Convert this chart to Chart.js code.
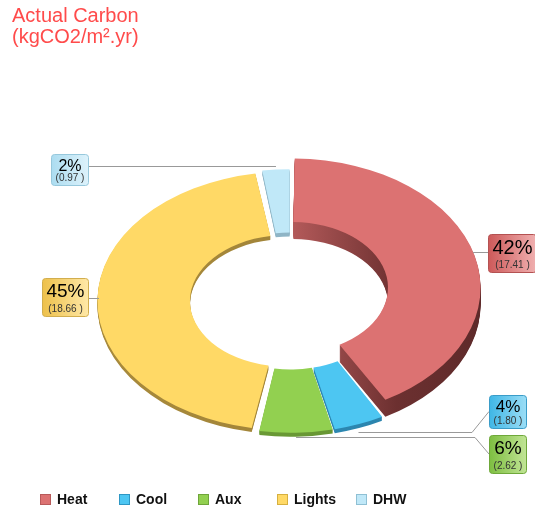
<!DOCTYPE html>
<html>
<head>
<meta charset="utf-8">
<script src="https://cdn.jsdelivr.net/npm/chart.js"></script>
<style>
html,body{margin:0;padding:0;background:#fff;width:535px;height:508px;overflow:hidden;}
#wrap{position:relative;width:535px;height:508px;}
#c{position:absolute;left:0;top:0;}
#title{position:absolute;left:12px;top:5px;color:#FF4B4B;font:20px "Liberation Sans",Arial,sans-serif;line-height:21px;white-space:nowrap;}
#legend{position:absolute;left:0;top:490px;width:535px;height:18px;font:bold 14px "Liberation Sans",Arial,sans-serif;color:#111;}
.item{position:absolute;top:0;height:18px;display:flex;align-items:center;white-space:nowrap;}
.sw{width:11px;height:11px;box-sizing:border-box;border:1px solid;margin-right:6px;}
</style>
</head>
<body>
<div id="wrap">
  <canvas id="c" width="535" height="508"></canvas>
  <div id="title">Actual Carbon<br>(kgCO2/m².yr)</div>
  <div id="legend"></div>
</div>
<script>
// ---- data ----
const categories = ['Heat', 'Cool', 'Aux', 'Lights', 'DHW'];
const values = [17.41, 1.80, 2.62, 18.66, 0.97];

// ---- styles ----
const topColors = ['#DC7272', '#4DC6F2', '#92D050', '#FFD966', '#C0E8F8'];
const legendBorders = ['#B85A5A', '#2E97C4', '#6FA53A', '#D6B040', '#8FC0D4'];
const sideStops = [
  [[0, '#C46464'], [0.5, '#B45A5A'], [0.78, '#6C3030'], [1, '#5E2A2A']],
  [[0, '#2F92BE'], [1, '#2A80A8']],
  [[0, '#6FA03A'], [1, '#62902F']],
  [[0, '#A88A3C'], [1, '#9C7F35']],
  [[0, '#95BACB'], [1, '#89AFC0']]
];
const boxLeft = ['#CD5959', '#3EB6E6', '#7DBE40', '#EDC04A', '#ABDCF0'];
const boxRight = ['#F0B0B0', '#9ADDF6', '#C0E494', '#FFE8A6', '#DDF2FB'];
const boxBorder = ['#B45252', '#3A9CC8', '#6FA83A', '#D2AE4E', '#97C8DC'];

// ---- layout ----
const GEO = {cx: 290, cy: 301, rx: 187, ry: 128};
const EXPLODE = [2, 4, 4, 4, 4];
const DEPTH = 4;
const LIFT = [13, 0, 0, 0, 0];
const LABELS = [
  {side: 'R', x: 488, y: 234, h: 38, big: 20, drop: -4},
  {side: 'R', x: 489, y: 395, h: 33, big: 17, elbow: 472, drop: 9},
  {side: 'R', x: 489, y: 435, h: 38, big: 19, elbow: 475, drop: 5},
  {side: 'L', x: 88, y: 278, h: 38, big: 19, drop: -2},
  {side: 'L', x: 88, y: 154, h: 31, big: 16, drop: -5}
];
const LEGEND_X = [40, 119, 198, 277, 356];

// legend (HTML text)
const lg = document.getElementById('legend');
categories.forEach((name, i) => {
  const it = document.createElement('div');
  it.className = 'item';
  it.style.left = LEGEND_X[i] + 'px';
  const sw = document.createElement('span');
  sw.className = 'sw';
  sw.style.background = topColors[i];
  sw.style.borderColor = legendBorders[i];
  it.appendChild(sw);
  it.appendChild(document.createTextNode(name));
  lg.appendChild(it);
});

const total = values.reduce((a, b) => a + b, 0);

function sliceShift(arc, i) {
  const mid = (arc.startAngle + arc.endAngle) / 2;
  return {
    dx: EXPLODE[i] * Math.cos(mid),
    dy: EXPLODE[i] * Math.sin(mid) * GEO.ry / GEO.rx - LIFT[i],
    depth: DEPTH + LIFT[i],
    mid: mid
  };
}

function drawArcWith(ctx, arc, fill) {
  const fake = Object.create(arc);
  fake.options = Object.assign({}, arc.options, {backgroundColor: fill, borderColor: fill, borderWidth: 0, offset: 0});
  arc.draw.call(fake, ctx);
}

const threeD = {
  id: 'threeD',
  beforeDatasetsDraw(chart) {
    const ctx = chart.ctx;
    const arcs = chart.getDatasetMeta(0).data;
    const a0 = arcs[0];
    const R = a0.outerRadius;
    const sx = GEO.rx / R, sy = GEO.ry / R;
    const groups = [[1, 2, 3, 4], [0]];
    groups.forEach(g => {
      g.forEach(i => {
        const arc = arcs[i];
        const s = sliceShift(arc, i);
        for (let k = s.depth; k >= 1; k--) {
          ctx.save();
          ctx.translate(GEO.cx + s.dx, GEO.cy + s.dy + k);
          ctx.scale(sx, sy);
          ctx.translate(-a0.x, -a0.y);
          const grad = ctx.createLinearGradient(a0.x - R, 0, a0.x + R, 0);
          sideStops[i].forEach(st => grad.addColorStop(st[0], st[1]));
          drawArcWith(ctx, arc, grad);
          ctx.restore();
        }
      });
      g.forEach(i => {
        const arc = arcs[i];
        const s = sliceShift(arc, i);
        ctx.save();
        ctx.translate(GEO.cx + s.dx, GEO.cy + s.dy);
        ctx.scale(sx, sy);
        ctx.translate(-a0.x, -a0.y);
        drawArcWith(ctx, arc, topColors[i]);
        ctx.restore();
      });
    });
    return false;
  },
  afterDraw(chart) {
    const ctx = chart.ctx;
    const arcs = chart.getDatasetMeta(0).data;
    const FONT = '"Liberation Sans", Arial, sans-serif';
    arcs.forEach((arc, i) => {
      const L = LABELS[i];
      const s = sliceShift(arc, i);
      const ax = GEO.cx + s.dx + Math.cos(s.mid) * GEO.rx;
      const ay = Math.round(GEO.cy + s.dy + Math.sin(s.mid) * GEO.ry + (L.drop || 0)) + 0.5;
      const pct = Math.round(values[i] / total * 100) + '%';
      const val = '(' + values[i].toFixed(2) + ' )';
      ctx.font = L.big + 'px ' + FONT;
      const bw = ctx.measureText(pct).width;
      ctx.font = '10px ' + FONT;
      const sw = ctx.measureText(val).width;
      const w = Math.round(Math.max(bw, sw) + 8);
      const bx = L.side === 'R' ? L.x : L.x - w;
      const by = L.y;
      // leader line
      ctx.save();
      ctx.strokeStyle = '#999';
      ctx.lineWidth = 1;
      ctx.beginPath();
      if (L.elbow) {
        ctx.moveTo(ax, ay);
        ctx.lineTo(L.elbow, ay);
        ctx.lineTo(bx, by + L.h / 2);
      } else {
        ctx.moveTo(ax, ay);
        ctx.lineTo(L.side === 'R' ? bx : bx + w, ay);
      }
      ctx.stroke();
      // box
      const g = ctx.createLinearGradient(bx, 0, bx + w, 0);
      g.addColorStop(0, boxLeft[i]);
      g.addColorStop(1, boxRight[i]);
      ctx.beginPath();
      ctx.roundRect(bx + 0.5, by + 0.5, w, L.h, 3);
      ctx.fillStyle = g;
      ctx.fill();
      ctx.strokeStyle = boxBorder[i];
      ctx.stroke();
      ctx.textAlign = 'center';
      ctx.textBaseline = 'alphabetic';
      ctx.fillStyle = '#000';
      ctx.font = L.big + 'px ' + FONT;
      ctx.fillText(pct, bx + w / 2 + 0.5, by + 3 + L.big * 0.85);
      ctx.fillStyle = '#333';
      ctx.font = '10px ' + FONT;
      ctx.fillText(val, bx + w / 2 + 0.5, by + L.h - 4);
      ctx.restore();
    });
  }
};

new Chart(document.getElementById('c'), {
  type: 'doughnut',
  data: {
    labels: categories,
    datasets: [{
      data: values,
      backgroundColor: topColors,
      borderWidth: 0,
      spacing: 4,
      clip: false
    }]
  },
  options: {
    responsive: false,
    devicePixelRatio: 1,
    animation: false,
    events: [],
    cutout: '50.5%',
    layout: {padding: 20},
    plugins: {legend: {display: false}, tooltip: {enabled: false}, title: {display: false}}
  },
  plugins: [threeD]
});
</script>
</body>
</html>
